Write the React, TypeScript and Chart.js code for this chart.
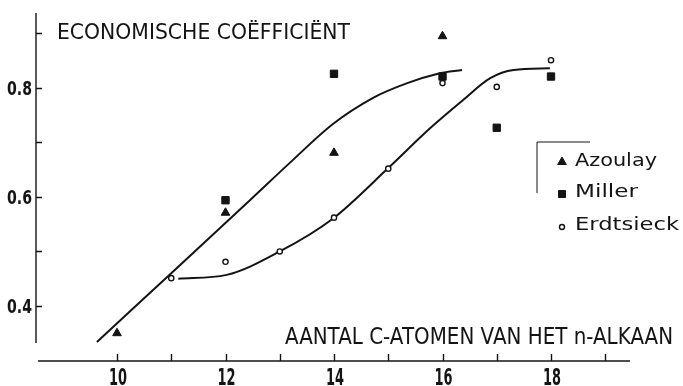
import React, { useEffect, useRef } from "react";
import { Chart, registerables } from "chart.js";

Chart.register(...registerables);

// Number of carbon atoms in the n-alkane (x) against the economic coefficient (y)
const azoulayN = [10, 12, 14, 16];
const azoulayY = [0.35, 0.571, 0.681, 0.895];

const millerN = [12, 14, 16, 17, 18];
const millerY = [0.594, 0.826, 0.821, 0.727, 0.821];

const erdtsieckN = [11, 12, 13, 14, 15, 16, 17, 18];
const erdtsieckY = [0.451, 0.481, 0.5, 0.562, 0.652, 0.809, 0.802, 0.851];

// Hand-drawn trend curves
const curveAN = [9.63, 11.0, 12.45, 13.19, 13.98, 14.72, 15.35, 15.95, 16.36];
const curveAY = [0.334, 0.46, 0.594, 0.663, 0.734, 0.782, 0.809, 0.827, 0.833];

const curveBN = [11.13, 12.02, 13.0, 13.99, 15.0, 15.77, 16.38, 16.88, 17.31, 17.98];
const curveBY = [0.45, 0.457, 0.5, 0.561, 0.653, 0.726, 0.778, 0.818, 0.833, 0.836];

// Axes
const xTickValues = [10, 11, 12, 13, 14, 15, 16, 17, 18, 19];
const xTickLabels = ["10", "", "12", "", "14", "", "16", "", "18", ""];
const yTickValues = [0.4, 0.5, 0.6, 0.7, 0.8, 0.9];
const yTickLabels = ["0.4", "", "0.6", "", "0.8", ""];

const seriesNames = ["Azoulay", "Miller", "Erdtsieck"];
const yTitle = "ECONOMISCHE COËFFICIËNT";
const xTitle = "AANTAL C-ATOMEN VAN HET n-ALKAAN";

const INK = "#141414";
const TEXT_FONT = '"DejaVu Sans", "Noto Sans", sans-serif';
const TICK_FONT = '"DejaVu Sans Condensed", "DejaVu Sans", sans-serif';

const pts = (xs: number[], ys: number[]) => xs.map((x, i) => ({ x, y: ys[i] }));

// Draws text squeezed or stretched to an exact width
function fitText(
  ctx: CanvasRenderingContext2D,
  text: string,
  x: number,
  baseline: number,
  width: number,
  font: string
) {
  ctx.save();
  ctx.font = font;
  ctx.textAlign = "left";
  ctx.textBaseline = "alphabetic";
  const w = ctx.measureText(text).width;
  ctx.translate(x, baseline);
  ctx.scale(width / w, 1);
  ctx.fillStyle = INK;
  ctx.fillText(text, 0, 0);
  ctx.restore();
}

// Draws text with a fixed horizontal squeeze, anchored by alignment
function squeezedText(
  ctx: CanvasRenderingContext2D,
  text: string,
  x: number,
  baseline: number,
  sx: number,
  font: string,
  align: CanvasTextAlign
) {
  ctx.save();
  ctx.font = font;
  ctx.textAlign = align;
  ctx.textBaseline = "alphabetic";
  ctx.translate(x, baseline);
  ctx.scale(sx, 1);
  ctx.fillStyle = INK;
  ctx.fillText(text, 0, 0);
  ctx.restore();
}

function drawMarker(ctx: CanvasRenderingContext2D, kind: number, x: number, y: number) {
  ctx.save();
  ctx.fillStyle = INK;
  ctx.strokeStyle = INK;
  ctx.lineWidth = 1;
  ctx.beginPath();
  if (kind === 0) {
    const r = 5;
    ctx.moveTo(x, y - r);
    ctx.lineTo(x + r * 0.866, y + r * 0.5);
    ctx.lineTo(x - r * 0.866, y + r * 0.5);
    ctx.closePath();
    ctx.fill();
    ctx.stroke();
  } else if (kind === 1) {
    ctx.rect(x - 3.5, y - 3.5, 7, 7);
    ctx.fill();
    ctx.stroke();
  } else {
    ctx.lineWidth = 1.4;
    ctx.fillStyle = "#fff";
    ctx.arc(x, y, 2.5, 0, Math.PI * 2);
    ctx.fill();
    ctx.stroke();
  }
  ctx.restore();
}

const paperPlugin = {
  id: "paperAxes",
  beforeDraw(chart: any) {
    const { ctx, width, height } = chart;
    ctx.save();
    ctx.fillStyle = "#fff";
    ctx.fillRect(0, 0, width, height);
    ctx.restore();
  },
  afterDraw(chart: any) {
    const { ctx, chartArea, scales } = chart;
    const xs = scales.x;
    const ys = scales.y;
    ctx.save();
    ctx.strokeStyle = INK;
    ctx.lineWidth = 1.4;
    ctx.lineCap = "butt";

    // vertical axis with inward ticks
    ctx.beginPath();
    ctx.moveTo(chartArea.left, chartArea.top);
    ctx.lineTo(chartArea.left, chartArea.bottom);
    yTickValues.forEach((v) => {
      const p = Math.round(ys.getPixelForValue(v)) + 0.5;
      ctx.moveTo(chartArea.left, p);
      ctx.lineTo(chartArea.left + 6, p);
    });
    ctx.stroke();

    // horizontal axis, set apart below the plot
    const axisY = chartArea.bottom + 18;
    ctx.beginPath();
    ctx.moveTo(chartArea.left + 2, axisY);
    ctx.lineTo(chartArea.right, axisY);
    xTickValues.forEach((v) => {
      const p = Math.round(xs.getPixelForValue(v)) + 0.5;
      ctx.moveTo(p, axisY);
      ctx.lineTo(p, axisY - 7);
    });
    ctx.stroke();

    // tick labels, narrow bold digits
    const xFont = `bold 23px ${TICK_FONT}`;
    ctx.font = xFont;
    const xSx = 18 / ctx.measureText("10").width;
    xTickValues.forEach((v, i) => {
      if (!xTickLabels[i]) return;
      squeezedText(ctx, xTickLabels[i], xs.getPixelForValue(v) + 1, 385, xSx, xFont, "center");
    });
    const yFont = `bold 20px ${TICK_FONT}`;
    ctx.font = yFont;
    const ySx = 25 / ctx.measureText("0.8").width;
    yTickValues.forEach((v, i) => {
      if (!yTickLabels[i]) return;
      squeezedText(ctx, yTickLabels[i], chartArea.left - 4, ys.getPixelForValue(v) + 7.5, ySx, yFont, "right");
    });

    // axis titles
    fitText(ctx, yTitle, 57, 39, 293, `22px ${TEXT_FONT}`);
    fitText(ctx, xTitle, 285, 344, 388, `23px ${TEXT_FONT}`);

    // legend bracket and entries
    ctx.beginPath();
    ctx.lineWidth = 1;
    ctx.moveTo(537, 193);
    ctx.lineTo(537, 142);
    ctx.lineTo(590, 142);
    ctx.stroke();

    const rows = [166, 197, 230];
    const widths = [82, 63, 104];
    const markerY = [162, 194, 227];
    seriesNames.forEach((name, i) => {
      drawMarker(ctx, i, 562, markerY[i]);
      fitText(ctx, name, 575, rows[i], widths[i], `18px ${TEXT_FONT}`);
    });
    ctx.restore();
  },
};

export default function App() {
  const canvasRef = useRef<HTMLCanvasElement | null>(null);

  useEffect(() => {
    const canvas = canvasRef.current;
    if (!canvas) return;

    const chart = new Chart(canvas, {
      type: "line",
      data: {
        datasets: [
          {
            label: "trend A",
            data: pts(curveAN, curveAY),
            borderColor: INK,
            borderWidth: 2,
            pointRadius: 0,
            tension: 0.35,
            fill: false,
            order: 5,
          },
          {
            label: "trend B",
            data: pts(curveBN, curveBY),
            borderColor: INK,
            borderWidth: 2,
            pointRadius: 0,
            cubicInterpolationMode: "monotone",
            fill: false,
            order: 5,
          },
          {
            label: seriesNames[0],
            data: pts(azoulayN, azoulayY),
            showLine: false,
            pointStyle: "triangle",
            pointRadius: 5,
            backgroundColor: INK,
            borderColor: INK,
            borderWidth: 1,
            order: 2,
          },
          {
            label: seriesNames[1],
            data: pts(millerN, millerY),
            showLine: false,
            pointStyle: "rect",
            pointRadius: 5.2,
            backgroundColor: INK,
            borderColor: INK,
            borderWidth: 1,
            order: 1,
          },
          {
            label: seriesNames[2],
            data: pts(erdtsieckN, erdtsieckY),
            showLine: false,
            pointStyle: "circle",
            pointRadius: 2.6,
            backgroundColor: "#fff",
            borderColor: INK,
            borderWidth: 1.4,
            order: 0,
          },
        ],
      },
      options: {
        responsive: false,
        animation: false,
        devicePixelRatio: 1,
        events: [],
        layout: { padding: { left: 0, right: 53, top: 13, bottom: 0 } },
        plugins: {
          legend: { display: false },
          tooltip: { enabled: false },
        },
        scales: {
          x: {
            type: "linear",
            min: 8.507,
            max: 19.456,
            grid: { display: false },
            border: { display: false },
            afterBuildTicks: (s: any) => {
              s.ticks = xTickValues.map((value) => ({ value }));
            },
            afterFit: (s: any) => {
              s.height = 43;
            },
            ticks: { display: false },
          },
          y: {
            type: "linear",
            min: 0.332,
            max: 0.9376,
            grid: { display: false },
            border: { display: false },
            afterBuildTicks: (s: any) => {
              s.ticks = yTickValues.map((value) => ({ value }));
            },
            afterFit: (s: any) => {
              s.width = 36;
            },
            ticks: { display: false },
          },
        },
      },
      plugins: [paperPlugin],
    });

    return () => chart.destroy();
  }, []);

  return (
    <div style={{ position: "fixed", left: 0, top: 0, width: 683, height: 386, background: "#fff" }}>
      <canvas ref={canvasRef} width={683} height={386} />
    </div>
  );
}
